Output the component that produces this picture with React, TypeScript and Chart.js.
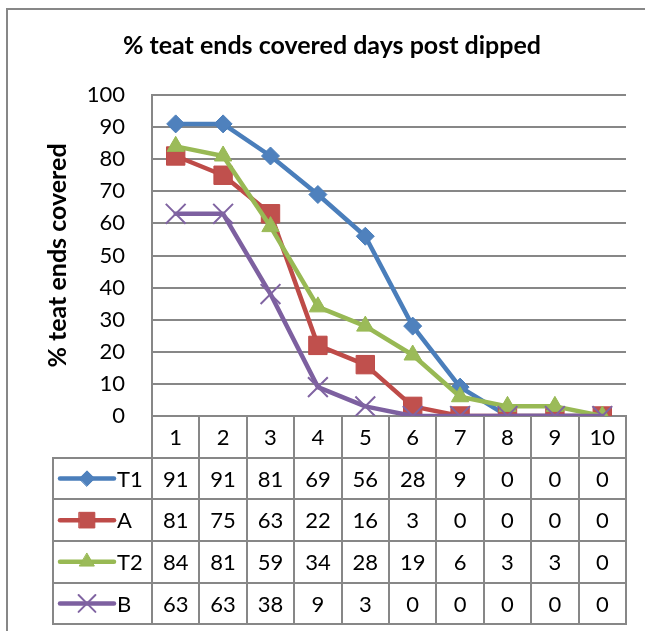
import React, { useEffect, useRef } from 'react';
import { Chart, registerables } from 'chart.js';
import { drawPoint } from 'chart.js/helpers';

Chart.register(...registerables);

// ---------- data ----------
const chartTitle = '% teat ends covered days post dipped';
const yAxisTitle = '% teat ends covered';
const days = ['1', '2', '3', '4', '5', '6', '7', '8', '9', '10'];
const seriesNames = ['T1', 'A', 'T2', 'B'];
const t1Values = [91, 91, 81, 69, 56, 28, 9, 0, 0, 0];
const aValues = [81, 75, 63, 22, 16, 3, 0, 0, 0, 0];
const t2Values = [84, 81, 59, 34, 28, 19, 6, 3, 3, 0];
const bValues = [63, 63, 38, 9, 3, 0, 0, 0, 0, 0];
const yMin = 0;
const yMax = 100;
const yStep = 10;

// ---------- styles ----------
const FONT = 'Lato, "Noto Sans", sans-serif';
const GRID = '#878787';
const W = 645;
const H = 631;
const ROW_H = 41.66;
const LEGEND_LEFT = 53;

const seriesStyles = [
  { color: '#4A7EBB', fill: '#4F81BD', style: 'rectRot', radius: 9, bw: 1 },
  { color: '#BE4B48', fill: '#C0504D', style: 'rect', radius: 13, bw: 1 },
  { color: '#98B954', fill: '#9BBB59', style: 'triangle', radius: 10, bw: 1 },
  { color: '#7D60A0', fill: '#8064A2', style: 'crossRot', radius: 14, bw: 2 },
];
const seriesValues = [t1Values, aValues, t2Values, bValues];

const framePlugin = {
  id: 'frame',
  beforeDraw(chart: any) {
    const { ctx } = chart;
    ctx.save();
    ctx.fillStyle = '#ffffff';
    ctx.fillRect(0, 0, chart.width, chart.height);
    ctx.strokeStyle = GRID;
    ctx.lineWidth = 2;
    ctx.beginPath();
    ctx.moveTo(7, chart.height);
    ctx.lineTo(7, 9);
    ctx.lineTo(chart.width, 9);
    ctx.stroke();
    // title
    ctx.fillStyle = '#000';
    ctx.font = `bold 25px ${FONT}`;
    ctx.textAlign = 'center';
    ctx.textBaseline = 'middle';
    ctx.fillText(chartTitle, 332, 46);
    ctx.restore();
  },
};

const tablePlugin = {
  id: 'dataTable',
  afterDraw(chart: any) {
    const { ctx, chartArea } = chart;
    const xs = chart.scales.x;
    const n = days.length;
    const left = chartArea.left;
    const right = chartArea.right;
    const colW = (right - left) / n;
    const top = chartArea.bottom;
    const rows = seriesNames.length;
    const bottom = top + ROW_H * (rows + 1);
    ctx.save();
    ctx.strokeStyle = GRID;
    ctx.lineWidth = 2;
    ctx.beginPath();
    for (let k = 0; k <= n; k++) {
      const x = Math.round(left + k * colW);
      ctx.moveTo(x, top);
      ctx.lineTo(x, bottom);
    }
    ctx.moveTo(LEGEND_LEFT, top + ROW_H);
    ctx.lineTo(LEGEND_LEFT, bottom);
    for (let r = 1; r <= rows + 1; r++) {
      const y = Math.round(top + r * ROW_H);
      ctx.moveTo(LEGEND_LEFT - 1, y);
      ctx.lineTo(right + 1, y);
    }
    ctx.stroke();

    ctx.fillStyle = '#000';
    ctx.font = `22px ${FONT}`;
    ctx.textAlign = 'center';
    ctx.textBaseline = 'middle';
    for (let i = 0; i < n; i++) {
      const cx = xs.getPixelForValue(i);
      ctx.fillText(days[i], cx, top + ROW_H / 2 + 1);
      for (let r = 0; r < rows; r++) {
        ctx.fillText(String(seriesValues[r][i]), cx, top + ROW_H * (r + 1.5) + 1);
      }
    }
    for (let r = 0; r < rows; r++) {
      const s = seriesStyles[r];
      const cy = top + ROW_H * (r + 1.5);
      ctx.strokeStyle = s.color;
      ctx.lineWidth = 4.5;
      ctx.lineCap = 'round';
      ctx.beginPath();
      ctx.moveTo(60, cy);
      ctx.lineTo(114, cy);
      ctx.stroke();
      ctx.fillStyle = s.fill;
      ctx.strokeStyle = s.style === 'crossRot' ? s.fill : s.color;
      ctx.lineWidth = s.bw;
      drawPoint(ctx, { pointStyle: s.style, radius: s.radius * 0.85, rotation: 0, borderWidth: s.bw } as any, 87, cy);
      ctx.fillStyle = '#000';
      ctx.textAlign = 'left';
      ctx.fillText(seriesNames[r], 117, cy + 1);
    }
    ctx.restore();
  },
};

export default function App() {
  const ref = useRef<HTMLCanvasElement | null>(null);
  useEffect(() => {
    if (!ref.current) return;
    const chart = new Chart(ref.current, {
      type: 'line',
      data: {
        labels: days,
        datasets: seriesNames.map((name, i) => ({
          label: name,
          data: seriesValues[i],
          borderColor: seriesStyles[i].color,
          backgroundColor: seriesStyles[i].fill,
          borderWidth: 4.5,
          borderCapStyle: 'round',
          borderJoinStyle: 'round',
          pointStyle: seriesStyles[i].style as any,
          pointRadius: seriesStyles[i].radius,
          pointBorderWidth: seriesStyles[i].bw,
          pointBackgroundColor: seriesStyles[i].fill,
          pointBorderColor: seriesStyles[i].style === 'crossRot' ? seriesStyles[i].fill : seriesStyles[i].color,
          order: seriesNames.length - i,
          tension: 0,
        })),
      },
      options: {
        responsive: false,
        animation: false,
        devicePixelRatio: 1,
        layout: { padding: { top: 95, right: 19, left: 0, bottom: 0 } },
        plugins: {
          legend: { display: false },
          title: { display: false },
          tooltip: { enabled: false },
        },
        scales: {
          x: {
            type: 'category',
            offset: true,
            grid: { display: false, drawTicks: false },
            border: { display: true, color: GRID, width: 2 },
            ticks: { display: false },
            afterFit(scale: any) {
              scale.height = H - 416;
            },
          },
          y: {
            min: yMin,
            max: yMax,
            ticks: {
              stepSize: yStep,
              padding: 27,
              color: '#000',
              font: { family: FONT, size: 22 },
            },
            grid: { color: GRID, lineWidth: 2, drawTicks: false },
            border: { display: true, color: GRID, width: 2 },
            title: {
              display: true,
              text: yAxisTitle,
              color: '#000',
              font: { family: FONT, size: 25, weight: 'bold', lineHeight: 1.2 },
              padding: { top: 43, bottom: 0 },
            },
            afterFit(scale: any) {
              scale.width = 152;
            },
          },
        },
      },
      plugins: [framePlugin, tablePlugin],
    });
    return () => chart.destroy();
  }, []);
  return (
    <div style={{ position: 'absolute', left: 0, top: 0, width: W, height: H, background: '#fff' }}>
      <canvas ref={ref} width={W} height={H} style={{ display: 'block', width: W, height: H }} />
    </div>
  );
}
